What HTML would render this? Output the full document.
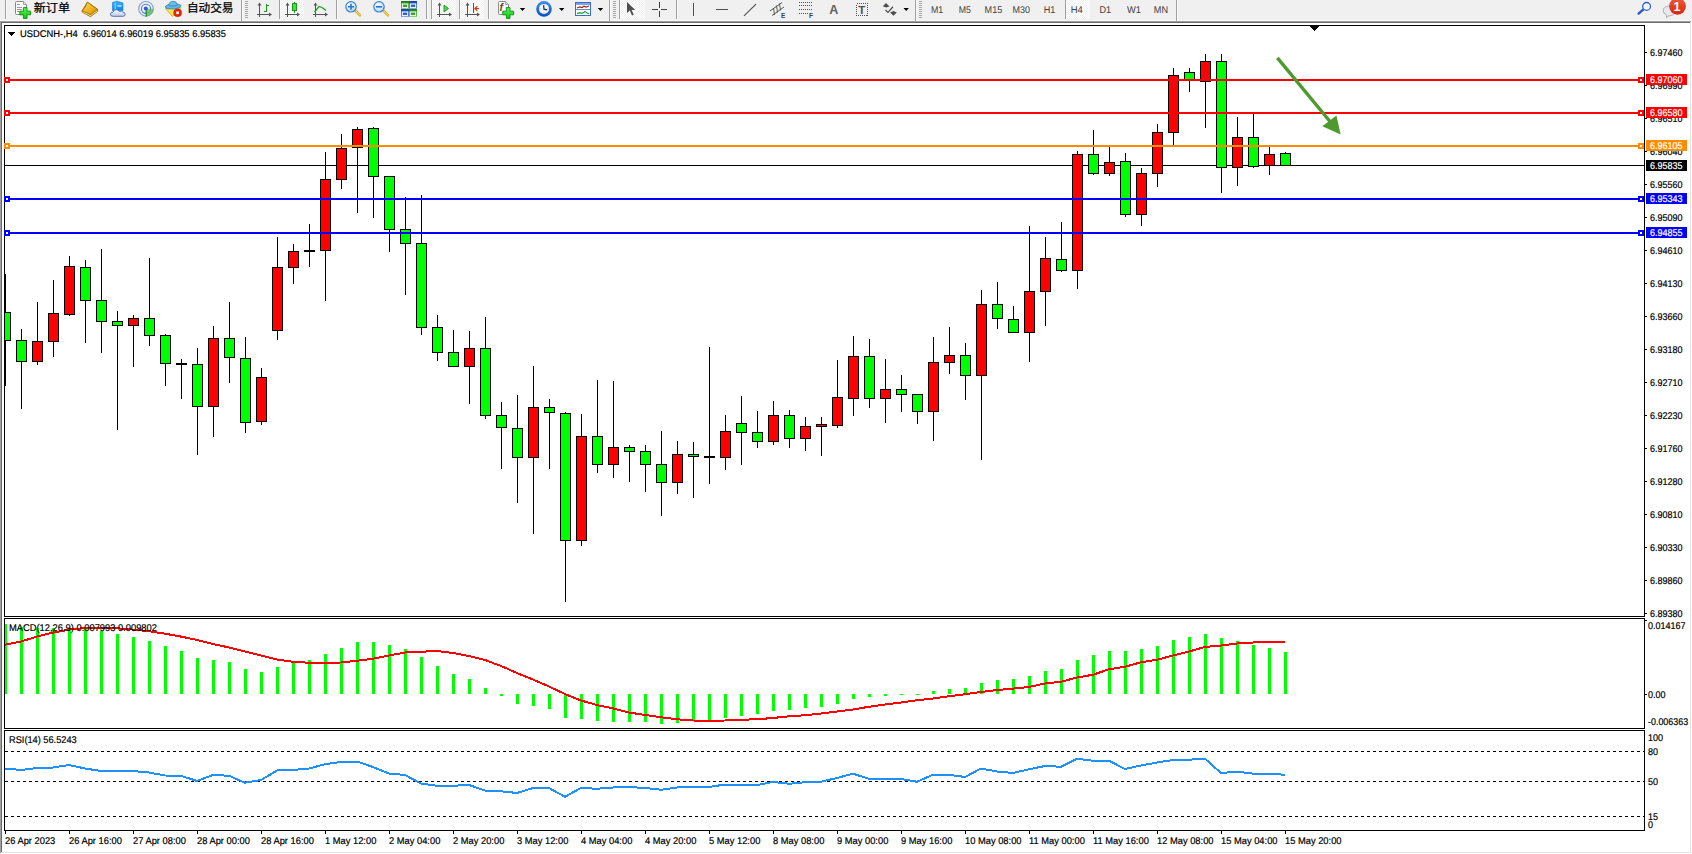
<!DOCTYPE html>
<html lang="zh"><head><meta charset="utf-8"><title>USDCNH-,H4</title>
<style>html,body{margin:0;padding:0;background:#fff}body{width:1692px;height:854px;overflow:hidden;position:relative}svg{display:block;position:absolute;left:0;top:0}text{font-family:"Liberation Sans","Noto Sans CJK SC",sans-serif}</style>
</head><body>
<svg width="1692" height="854" viewBox="0 0 1692 854">
<rect width="1692" height="854" fill="#fff"/>
<g shape-rendering="crispEdges">
<rect x="0" y="0" width="1692" height="21" fill="#f0f0f0"/>
<rect x="0" y="20" width="1692" height="1" fill="#f7f7f7"/>
<rect x="0" y="21" width="1691" height="1" fill="#a0a0a0"/>
<rect x="0" y="21" width="1" height="832" fill="#a0a0a0"/>
<rect x="1" y="22" width="1689" height="1" fill="#696969"/>
<rect x="1" y="22" width="1" height="830" fill="#696969"/>
<rect x="1690" y="22" width="1" height="831" fill="#e3e3e3"/>
<rect x="1" y="852" width="1690" height="1" fill="#e3e3e3"/>
<rect x="4" y="25" width="1641" height="1" fill="#000"/>
<rect x="4" y="25" width="1" height="592" fill="#000"/>
<rect x="1644" y="25" width="1" height="592" fill="#000"/>
<rect x="4" y="616" width="1641" height="1" fill="#000"/>
<rect x="4" y="618" width="1641" height="1" fill="#000"/>
<rect x="4" y="618" width="1" height="111" fill="#000"/>
<rect x="1644" y="618" width="1" height="111" fill="#000"/>
<rect x="4" y="728" width="1641" height="1" fill="#000"/>
<rect x="4" y="730" width="1641" height="1" fill="#000"/>
<rect x="4" y="730" width="1" height="101" fill="#000"/>
<rect x="1644" y="730" width="1" height="101" fill="#000"/>
<rect x="4" y="830" width="1641" height="1" fill="#000"/>
</g>
<svg x="5" y="26" width="1639" height="590" viewBox="5 26 1639 590" overflow="hidden">
<g shape-rendering="crispEdges">
<rect x="5" y="165" width="1639" height="1" fill="#000"/>
<rect x="5" y="274" width="1" height="112" fill="#000"/>
<rect x="0" y="312" width="11" height="29" fill="#000"/>
<rect x="1" y="313" width="9" height="27" fill="#00ff00"/>
<rect x="21" y="329" width="1" height="80" fill="#000"/>
<rect x="16" y="340" width="11" height="22" fill="#000"/>
<rect x="17" y="341" width="9" height="20" fill="#00ff00"/>
<rect x="37" y="302" width="1" height="63" fill="#000"/>
<rect x="32" y="341" width="11" height="21" fill="#000"/>
<rect x="33" y="342" width="9" height="19" fill="#ff0000"/>
<rect x="53" y="280" width="1" height="77" fill="#000"/>
<rect x="48" y="313" width="11" height="29" fill="#000"/>
<rect x="49" y="314" width="9" height="27" fill="#ff0000"/>
<rect x="69" y="256" width="1" height="60" fill="#000"/>
<rect x="64" y="266" width="11" height="49" fill="#000"/>
<rect x="65" y="267" width="9" height="47" fill="#ff0000"/>
<rect x="85" y="260" width="1" height="83" fill="#000"/>
<rect x="80" y="267" width="11" height="34" fill="#000"/>
<rect x="81" y="268" width="9" height="32" fill="#00ff00"/>
<rect x="101" y="249" width="1" height="104" fill="#000"/>
<rect x="96" y="300" width="11" height="22" fill="#000"/>
<rect x="97" y="301" width="9" height="20" fill="#00ff00"/>
<rect x="117" y="311" width="1" height="119" fill="#000"/>
<rect x="112" y="321" width="11" height="5" fill="#000"/>
<rect x="113" y="322" width="9" height="3" fill="#00ff00"/>
<rect x="133" y="315" width="1" height="52" fill="#000"/>
<rect x="128" y="318" width="11" height="8" fill="#000"/>
<rect x="129" y="319" width="9" height="6" fill="#ff0000"/>
<rect x="149" y="258" width="1" height="88" fill="#000"/>
<rect x="144" y="318" width="11" height="18" fill="#000"/>
<rect x="145" y="319" width="9" height="16" fill="#00ff00"/>
<rect x="165" y="334" width="1" height="52" fill="#000"/>
<rect x="160" y="335" width="11" height="29" fill="#000"/>
<rect x="161" y="336" width="9" height="27" fill="#00ff00"/>
<rect x="181" y="359" width="1" height="40" fill="#000"/>
<rect x="176" y="363" width="11" height="2" fill="#000"/>
<rect x="197" y="348" width="1" height="107" fill="#000"/>
<rect x="192" y="364" width="11" height="43" fill="#000"/>
<rect x="193" y="365" width="9" height="41" fill="#00ff00"/>
<rect x="213" y="326" width="1" height="111" fill="#000"/>
<rect x="208" y="338" width="11" height="69" fill="#000"/>
<rect x="209" y="339" width="9" height="67" fill="#ff0000"/>
<rect x="229" y="302" width="1" height="81" fill="#000"/>
<rect x="224" y="338" width="11" height="20" fill="#000"/>
<rect x="225" y="339" width="9" height="18" fill="#00ff00"/>
<rect x="245" y="337" width="1" height="96" fill="#000"/>
<rect x="240" y="358" width="11" height="65" fill="#000"/>
<rect x="241" y="359" width="9" height="63" fill="#00ff00"/>
<rect x="261" y="368" width="1" height="57" fill="#000"/>
<rect x="256" y="377" width="11" height="45" fill="#000"/>
<rect x="257" y="378" width="9" height="43" fill="#ff0000"/>
<rect x="277" y="237" width="1" height="103" fill="#000"/>
<rect x="272" y="267" width="11" height="64" fill="#000"/>
<rect x="273" y="268" width="9" height="62" fill="#ff0000"/>
<rect x="293" y="244" width="1" height="40" fill="#000"/>
<rect x="288" y="251" width="11" height="17" fill="#000"/>
<rect x="289" y="252" width="9" height="15" fill="#ff0000"/>
<rect x="309" y="224" width="1" height="43" fill="#000"/>
<rect x="304" y="250" width="11" height="2" fill="#000"/>
<rect x="325" y="152" width="1" height="149" fill="#000"/>
<rect x="320" y="179" width="11" height="72" fill="#000"/>
<rect x="321" y="180" width="9" height="70" fill="#ff0000"/>
<rect x="341" y="134" width="1" height="55" fill="#000"/>
<rect x="336" y="148" width="11" height="32" fill="#000"/>
<rect x="337" y="149" width="9" height="30" fill="#ff0000"/>
<rect x="357" y="127" width="1" height="86" fill="#000"/>
<rect x="352" y="129" width="11" height="19" fill="#000"/>
<rect x="353" y="130" width="9" height="17" fill="#ff0000"/>
<rect x="373" y="127" width="1" height="91" fill="#000"/>
<rect x="368" y="128" width="11" height="49" fill="#000"/>
<rect x="369" y="129" width="9" height="47" fill="#00ff00"/>
<rect x="389" y="176" width="1" height="76" fill="#000"/>
<rect x="384" y="176" width="11" height="54" fill="#000"/>
<rect x="385" y="177" width="9" height="52" fill="#00ff00"/>
<rect x="405" y="197" width="1" height="98" fill="#000"/>
<rect x="400" y="229" width="11" height="15" fill="#000"/>
<rect x="401" y="230" width="9" height="13" fill="#00ff00"/>
<rect x="421" y="195" width="1" height="140" fill="#000"/>
<rect x="416" y="243" width="11" height="85" fill="#000"/>
<rect x="417" y="244" width="9" height="83" fill="#00ff00"/>
<rect x="437" y="315" width="1" height="46" fill="#000"/>
<rect x="432" y="327" width="11" height="26" fill="#000"/>
<rect x="433" y="328" width="9" height="24" fill="#00ff00"/>
<rect x="453" y="330" width="1" height="37" fill="#000"/>
<rect x="448" y="352" width="11" height="15" fill="#000"/>
<rect x="449" y="353" width="9" height="13" fill="#00ff00"/>
<rect x="469" y="331" width="1" height="73" fill="#000"/>
<rect x="464" y="348" width="11" height="19" fill="#000"/>
<rect x="465" y="349" width="9" height="17" fill="#ff0000"/>
<rect x="485" y="317" width="1" height="102" fill="#000"/>
<rect x="480" y="348" width="11" height="68" fill="#000"/>
<rect x="481" y="349" width="9" height="66" fill="#00ff00"/>
<rect x="501" y="402" width="1" height="67" fill="#000"/>
<rect x="496" y="415" width="11" height="13" fill="#000"/>
<rect x="497" y="416" width="9" height="11" fill="#00ff00"/>
<rect x="517" y="395" width="1" height="108" fill="#000"/>
<rect x="512" y="428" width="11" height="30" fill="#000"/>
<rect x="513" y="429" width="9" height="28" fill="#00ff00"/>
<rect x="533" y="366" width="1" height="168" fill="#000"/>
<rect x="528" y="407" width="11" height="51" fill="#000"/>
<rect x="529" y="408" width="9" height="49" fill="#ff0000"/>
<rect x="549" y="399" width="1" height="70" fill="#000"/>
<rect x="544" y="407" width="11" height="6" fill="#000"/>
<rect x="545" y="408" width="9" height="4" fill="#00ff00"/>
<rect x="565" y="412" width="1" height="190" fill="#000"/>
<rect x="560" y="413" width="11" height="128" fill="#000"/>
<rect x="561" y="414" width="9" height="126" fill="#00ff00"/>
<rect x="581" y="414" width="1" height="132" fill="#000"/>
<rect x="576" y="436" width="11" height="105" fill="#000"/>
<rect x="577" y="437" width="9" height="103" fill="#ff0000"/>
<rect x="597" y="380" width="1" height="93" fill="#000"/>
<rect x="592" y="436" width="11" height="29" fill="#000"/>
<rect x="593" y="437" width="9" height="27" fill="#00ff00"/>
<rect x="613" y="381" width="1" height="97" fill="#000"/>
<rect x="608" y="447" width="11" height="18" fill="#000"/>
<rect x="609" y="448" width="9" height="16" fill="#ff0000"/>
<rect x="629" y="445" width="1" height="37" fill="#000"/>
<rect x="624" y="447" width="11" height="5" fill="#000"/>
<rect x="625" y="448" width="9" height="3" fill="#00ff00"/>
<rect x="645" y="445" width="1" height="47" fill="#000"/>
<rect x="640" y="451" width="11" height="14" fill="#000"/>
<rect x="641" y="452" width="9" height="12" fill="#00ff00"/>
<rect x="661" y="431" width="1" height="85" fill="#000"/>
<rect x="656" y="464" width="11" height="19" fill="#000"/>
<rect x="657" y="465" width="9" height="17" fill="#00ff00"/>
<rect x="677" y="441" width="1" height="53" fill="#000"/>
<rect x="672" y="454" width="11" height="29" fill="#000"/>
<rect x="673" y="455" width="9" height="27" fill="#ff0000"/>
<rect x="693" y="442" width="1" height="56" fill="#000"/>
<rect x="688" y="454" width="11" height="3" fill="#000"/>
<rect x="689" y="455" width="9" height="1" fill="#00ff00"/>
<rect x="709" y="347" width="1" height="137" fill="#000"/>
<rect x="704" y="456" width="11" height="2" fill="#000"/>
<rect x="725" y="415" width="1" height="55" fill="#000"/>
<rect x="720" y="431" width="11" height="27" fill="#000"/>
<rect x="721" y="432" width="9" height="25" fill="#ff0000"/>
<rect x="741" y="396" width="1" height="69" fill="#000"/>
<rect x="736" y="423" width="11" height="10" fill="#000"/>
<rect x="737" y="424" width="9" height="8" fill="#00ff00"/>
<rect x="757" y="411" width="1" height="37" fill="#000"/>
<rect x="752" y="432" width="11" height="10" fill="#000"/>
<rect x="753" y="433" width="9" height="8" fill="#00ff00"/>
<rect x="773" y="401" width="1" height="44" fill="#000"/>
<rect x="768" y="415" width="11" height="27" fill="#000"/>
<rect x="769" y="416" width="9" height="25" fill="#ff0000"/>
<rect x="789" y="410" width="1" height="38" fill="#000"/>
<rect x="784" y="415" width="11" height="24" fill="#000"/>
<rect x="785" y="416" width="9" height="22" fill="#00ff00"/>
<rect x="805" y="417" width="1" height="34" fill="#000"/>
<rect x="800" y="426" width="11" height="13" fill="#000"/>
<rect x="801" y="427" width="9" height="11" fill="#ff0000"/>
<rect x="821" y="417" width="1" height="39" fill="#000"/>
<rect x="816" y="424" width="11" height="3" fill="#000"/>
<rect x="817" y="425" width="9" height="1" fill="#ff0000"/>
<rect x="837" y="360" width="1" height="68" fill="#000"/>
<rect x="832" y="397" width="11" height="29" fill="#000"/>
<rect x="833" y="398" width="9" height="27" fill="#ff0000"/>
<rect x="853" y="336" width="1" height="80" fill="#000"/>
<rect x="848" y="356" width="11" height="43" fill="#000"/>
<rect x="849" y="357" width="9" height="41" fill="#ff0000"/>
<rect x="869" y="339" width="1" height="69" fill="#000"/>
<rect x="864" y="356" width="11" height="43" fill="#000"/>
<rect x="865" y="357" width="9" height="41" fill="#00ff00"/>
<rect x="885" y="359" width="1" height="64" fill="#000"/>
<rect x="880" y="389" width="11" height="10" fill="#000"/>
<rect x="881" y="390" width="9" height="8" fill="#ff0000"/>
<rect x="901" y="375" width="1" height="37" fill="#000"/>
<rect x="896" y="389" width="11" height="6" fill="#000"/>
<rect x="897" y="390" width="9" height="4" fill="#00ff00"/>
<rect x="917" y="394" width="1" height="30" fill="#000"/>
<rect x="912" y="394" width="11" height="18" fill="#000"/>
<rect x="913" y="395" width="9" height="16" fill="#00ff00"/>
<rect x="933" y="337" width="1" height="104" fill="#000"/>
<rect x="928" y="362" width="11" height="50" fill="#000"/>
<rect x="929" y="363" width="9" height="48" fill="#ff0000"/>
<rect x="949" y="327" width="1" height="47" fill="#000"/>
<rect x="944" y="355" width="11" height="8" fill="#000"/>
<rect x="945" y="356" width="9" height="6" fill="#ff0000"/>
<rect x="965" y="343" width="1" height="57" fill="#000"/>
<rect x="960" y="355" width="11" height="21" fill="#000"/>
<rect x="961" y="356" width="9" height="19" fill="#00ff00"/>
<rect x="981" y="290" width="1" height="170" fill="#000"/>
<rect x="976" y="304" width="11" height="72" fill="#000"/>
<rect x="977" y="305" width="9" height="70" fill="#ff0000"/>
<rect x="997" y="282" width="1" height="47" fill="#000"/>
<rect x="992" y="304" width="11" height="15" fill="#000"/>
<rect x="993" y="305" width="9" height="13" fill="#00ff00"/>
<rect x="1013" y="306" width="1" height="27" fill="#000"/>
<rect x="1008" y="319" width="11" height="14" fill="#000"/>
<rect x="1009" y="320" width="9" height="12" fill="#00ff00"/>
<rect x="1029" y="226" width="1" height="136" fill="#000"/>
<rect x="1024" y="291" width="11" height="42" fill="#000"/>
<rect x="1025" y="292" width="9" height="40" fill="#ff0000"/>
<rect x="1045" y="237" width="1" height="89" fill="#000"/>
<rect x="1040" y="258" width="11" height="34" fill="#000"/>
<rect x="1041" y="259" width="9" height="32" fill="#ff0000"/>
<rect x="1061" y="222" width="1" height="50" fill="#000"/>
<rect x="1056" y="259" width="11" height="12" fill="#000"/>
<rect x="1057" y="260" width="9" height="10" fill="#00ff00"/>
<rect x="1077" y="151" width="1" height="138" fill="#000"/>
<rect x="1072" y="154" width="11" height="117" fill="#000"/>
<rect x="1073" y="155" width="9" height="115" fill="#ff0000"/>
<rect x="1093" y="130" width="1" height="45" fill="#000"/>
<rect x="1088" y="154" width="11" height="20" fill="#000"/>
<rect x="1089" y="155" width="9" height="18" fill="#00ff00"/>
<rect x="1109" y="147" width="1" height="29" fill="#000"/>
<rect x="1104" y="162" width="11" height="12" fill="#000"/>
<rect x="1105" y="163" width="9" height="10" fill="#ff0000"/>
<rect x="1125" y="153" width="1" height="64" fill="#000"/>
<rect x="1120" y="161" width="11" height="54" fill="#000"/>
<rect x="1121" y="162" width="9" height="52" fill="#00ff00"/>
<rect x="1141" y="168" width="1" height="58" fill="#000"/>
<rect x="1136" y="173" width="11" height="42" fill="#000"/>
<rect x="1137" y="174" width="9" height="40" fill="#ff0000"/>
<rect x="1157" y="124" width="1" height="63" fill="#000"/>
<rect x="1152" y="132" width="11" height="42" fill="#000"/>
<rect x="1153" y="133" width="9" height="40" fill="#ff0000"/>
<rect x="1173" y="68" width="1" height="77" fill="#000"/>
<rect x="1168" y="75" width="11" height="58" fill="#000"/>
<rect x="1169" y="76" width="9" height="56" fill="#ff0000"/>
<rect x="1189" y="68" width="1" height="24" fill="#000"/>
<rect x="1184" y="72" width="11" height="8" fill="#000"/>
<rect x="1185" y="73" width="9" height="6" fill="#00ff00"/>
<rect x="1205" y="54" width="1" height="74" fill="#000"/>
<rect x="1200" y="61" width="11" height="21" fill="#000"/>
<rect x="1201" y="62" width="9" height="19" fill="#ff0000"/>
<rect x="1221" y="54" width="1" height="139" fill="#000"/>
<rect x="1216" y="61" width="11" height="107" fill="#000"/>
<rect x="1217" y="62" width="9" height="105" fill="#00ff00"/>
<rect x="1237" y="117" width="1" height="69" fill="#000"/>
<rect x="1232" y="137" width="11" height="31" fill="#000"/>
<rect x="1233" y="138" width="9" height="29" fill="#ff0000"/>
<rect x="1253" y="114" width="1" height="54" fill="#000"/>
<rect x="1248" y="137" width="11" height="30" fill="#000"/>
<rect x="1249" y="138" width="9" height="28" fill="#00ff00"/>
<rect x="1269" y="147" width="1" height="28" fill="#000"/>
<rect x="1264" y="154" width="11" height="12" fill="#000"/>
<rect x="1265" y="155" width="9" height="10" fill="#ff0000"/>
<rect x="1285" y="152" width="1" height="14" fill="#000"/>
<rect x="1280" y="153" width="11" height="13" fill="#000"/>
<rect x="1281" y="154" width="9" height="11" fill="#00ff00"/>
<rect x="5" y="79" width="1639" height="2" fill="#ff0000"/>
<rect x="5" y="112" width="1639" height="2" fill="#ff0000"/>
<rect x="5" y="145" width="1639" height="2" fill="#ff8c00"/>
<rect x="5" y="198" width="1639" height="2" fill="#0000ff"/>
<rect x="5" y="232" width="1639" height="2" fill="#0000ff"/>
</g>
<g shape-rendering="crispEdges" fill="#000"><rect x="1310" y="26" width="9" height="1"/><rect x="1311" y="27" width="7" height="1"/><rect x="1312" y="28" width="5" height="1"/><rect x="1313" y="29" width="3" height="1"/><rect x="1314" y="30" width="1" height="1"/></g>
<line x1="1277.4" y1="57.8" x2="1330" y2="121.5" stroke="#4e9a2f" stroke-width="3.4"/>
<path d="M1340.7 134.4 L1322.3 126.3 L1336.4 115.6 Z" fill="#4e9a2f"/>
</svg>
<g shape-rendering="crispEdges">
<rect x="4" y="77" width="6" height="6" fill="#ff0000"/>
<rect x="6" y="79" width="2" height="2" fill="#fff"/>
<rect x="1638" y="77" width="6" height="6" fill="#ff0000"/>
<rect x="1640" y="79" width="2" height="2" fill="#fff"/>
<rect x="4" y="110" width="6" height="6" fill="#ff0000"/>
<rect x="6" y="112" width="2" height="2" fill="#fff"/>
<rect x="1638" y="110" width="6" height="6" fill="#ff0000"/>
<rect x="1640" y="112" width="2" height="2" fill="#fff"/>
<rect x="4" y="143" width="6" height="6" fill="#ff8c00"/>
<rect x="6" y="145" width="2" height="2" fill="#fff"/>
<rect x="1638" y="143" width="6" height="6" fill="#ff8c00"/>
<rect x="1640" y="145" width="2" height="2" fill="#fff"/>
<rect x="4" y="196" width="6" height="6" fill="#0000ff"/>
<rect x="6" y="198" width="2" height="2" fill="#fff"/>
<rect x="1638" y="196" width="6" height="6" fill="#0000ff"/>
<rect x="1640" y="198" width="2" height="2" fill="#fff"/>
<rect x="4" y="230" width="6" height="6" fill="#0000ff"/>
<rect x="6" y="232" width="2" height="2" fill="#fff"/>
<rect x="1638" y="230" width="6" height="6" fill="#0000ff"/>
<rect x="1640" y="232" width="2" height="2" fill="#fff"/>
</g>
<g shape-rendering="crispEdges" fill="#000"><rect x="8" y="32" width="7" height="1"/><rect x="9" y="33" width="5" height="1"/><rect x="10" y="34" width="3" height="1"/><rect x="11" y="35" width="1" height="1"/></g>
<text transform="translate(20,37) scale(0.9551,1)" font-size="9.8" fill="#000" stroke="#000" stroke-width="0.2" text-rendering="geometricPrecision" xml:space="preserve">USDCNH-,H4  6.96014 6.96019 6.95835 6.95835</text>
<g shape-rendering="crispEdges">
<rect x="1645" y="52" width="2" height="1" fill="#000"/>
<rect x="1645" y="85" width="2" height="1" fill="#000"/>
<rect x="1645" y="118" width="2" height="1" fill="#000"/>
<rect x="1645" y="151" width="2" height="1" fill="#000"/>
<rect x="1645" y="184" width="2" height="1" fill="#000"/>
<rect x="1645" y="217" width="2" height="1" fill="#000"/>
<rect x="1645" y="250" width="2" height="1" fill="#000"/>
<rect x="1645" y="283" width="2" height="1" fill="#000"/>
<rect x="1645" y="316" width="2" height="1" fill="#000"/>
<rect x="1645" y="349" width="2" height="1" fill="#000"/>
<rect x="1645" y="382" width="2" height="1" fill="#000"/>
<rect x="1645" y="415" width="2" height="1" fill="#000"/>
<rect x="1645" y="448" width="2" height="1" fill="#000"/>
<rect x="1645" y="481" width="2" height="1" fill="#000"/>
<rect x="1645" y="514" width="2" height="1" fill="#000"/>
<rect x="1645" y="547" width="2" height="1" fill="#000"/>
<rect x="1645" y="580" width="2" height="1" fill="#000"/>
<rect x="1645" y="613" width="2" height="1" fill="#000"/>
</g>
<text transform="translate(1650,56) scale(0.9184,1)" font-size="9.8" fill="#000" stroke="#000" stroke-width="0.2" text-rendering="geometricPrecision" xml:space="preserve">6.97460</text>
<text transform="translate(1650,89) scale(0.9184,1)" font-size="9.8" fill="#000" stroke="#000" stroke-width="0.2" text-rendering="geometricPrecision" xml:space="preserve">6.96990</text>
<text transform="translate(1650,122) scale(0.9184,1)" font-size="9.8" fill="#000" stroke="#000" stroke-width="0.2" text-rendering="geometricPrecision" xml:space="preserve">6.96510</text>
<text transform="translate(1650,155) scale(0.9184,1)" font-size="9.8" fill="#000" stroke="#000" stroke-width="0.2" text-rendering="geometricPrecision" xml:space="preserve">6.96040</text>
<text transform="translate(1650,188) scale(0.9184,1)" font-size="9.8" fill="#000" stroke="#000" stroke-width="0.2" text-rendering="geometricPrecision" xml:space="preserve">6.95560</text>
<text transform="translate(1650,221) scale(0.9184,1)" font-size="9.8" fill="#000" stroke="#000" stroke-width="0.2" text-rendering="geometricPrecision" xml:space="preserve">6.95090</text>
<text transform="translate(1650,254) scale(0.9184,1)" font-size="9.8" fill="#000" stroke="#000" stroke-width="0.2" text-rendering="geometricPrecision" xml:space="preserve">6.94610</text>
<text transform="translate(1650,287) scale(0.9184,1)" font-size="9.8" fill="#000" stroke="#000" stroke-width="0.2" text-rendering="geometricPrecision" xml:space="preserve">6.94130</text>
<text transform="translate(1650,320) scale(0.9184,1)" font-size="9.8" fill="#000" stroke="#000" stroke-width="0.2" text-rendering="geometricPrecision" xml:space="preserve">6.93660</text>
<text transform="translate(1650,353) scale(0.9184,1)" font-size="9.8" fill="#000" stroke="#000" stroke-width="0.2" text-rendering="geometricPrecision" xml:space="preserve">6.93180</text>
<text transform="translate(1650,386) scale(0.9184,1)" font-size="9.8" fill="#000" stroke="#000" stroke-width="0.2" text-rendering="geometricPrecision" xml:space="preserve">6.92710</text>
<text transform="translate(1650,419) scale(0.9184,1)" font-size="9.8" fill="#000" stroke="#000" stroke-width="0.2" text-rendering="geometricPrecision" xml:space="preserve">6.92230</text>
<text transform="translate(1650,452) scale(0.9184,1)" font-size="9.8" fill="#000" stroke="#000" stroke-width="0.2" text-rendering="geometricPrecision" xml:space="preserve">6.91760</text>
<text transform="translate(1650,485) scale(0.9184,1)" font-size="9.8" fill="#000" stroke="#000" stroke-width="0.2" text-rendering="geometricPrecision" xml:space="preserve">6.91280</text>
<text transform="translate(1650,518) scale(0.9184,1)" font-size="9.8" fill="#000" stroke="#000" stroke-width="0.2" text-rendering="geometricPrecision" xml:space="preserve">6.90810</text>
<text transform="translate(1650,551) scale(0.9184,1)" font-size="9.8" fill="#000" stroke="#000" stroke-width="0.2" text-rendering="geometricPrecision" xml:space="preserve">6.90330</text>
<text transform="translate(1650,584) scale(0.9184,1)" font-size="9.8" fill="#000" stroke="#000" stroke-width="0.2" text-rendering="geometricPrecision" xml:space="preserve">6.89860</text>
<text transform="translate(1650,617) scale(0.9184,1)" font-size="9.8" fill="#000" stroke="#000" stroke-width="0.2" text-rendering="geometricPrecision" xml:space="preserve">6.89380</text>
<rect x="1646" y="74" width="41" height="11" fill="#ff0000" shape-rendering="crispEdges"/>
<text transform="translate(1650,83) scale(0.9184,1)" font-size="9.8" fill="#fff" stroke="#fff" stroke-width="0.2" text-rendering="geometricPrecision" xml:space="preserve">6.97060</text>
<rect x="1646" y="107" width="41" height="11" fill="#ff0000" shape-rendering="crispEdges"/>
<text transform="translate(1650,116) scale(0.9184,1)" font-size="9.8" fill="#fff" stroke="#fff" stroke-width="0.2" text-rendering="geometricPrecision" xml:space="preserve">6.96580</text>
<rect x="1646" y="140" width="41" height="11" fill="#ff8c00" shape-rendering="crispEdges"/>
<text transform="translate(1650,149) scale(0.9184,1)" font-size="9.8" fill="#fff" stroke="#fff" stroke-width="0.2" text-rendering="geometricPrecision" xml:space="preserve">6.96105</text>
<rect x="1646" y="193" width="41" height="11" fill="#0000ff" shape-rendering="crispEdges"/>
<text transform="translate(1650,202) scale(0.9184,1)" font-size="9.8" fill="#fff" stroke="#fff" stroke-width="0.2" text-rendering="geometricPrecision" xml:space="preserve">6.95343</text>
<rect x="1646" y="227" width="41" height="11" fill="#0000ff" shape-rendering="crispEdges"/>
<text transform="translate(1650,236) scale(0.9184,1)" font-size="9.8" fill="#fff" stroke="#fff" stroke-width="0.2" text-rendering="geometricPrecision" xml:space="preserve">6.94855</text>
<rect x="1646" y="160" width="41" height="11" fill="#000000" shape-rendering="crispEdges"/>
<text transform="translate(1650,169) scale(0.9184,1)" font-size="9.8" fill="#fff" stroke="#fff" stroke-width="0.2" text-rendering="geometricPrecision" xml:space="preserve">6.95835</text>
<svg x="5" y="619" width="1639" height="109" viewBox="5 619 1639 109" overflow="hidden">
<g shape-rendering="crispEdges" fill="#00ff00">
<rect x="4" y="624" width="3" height="70"/>
<rect x="20" y="627" width="3" height="67"/>
<rect x="36" y="628" width="3" height="66"/>
<rect x="52" y="628" width="3" height="66"/>
<rect x="68" y="628" width="3" height="66"/>
<rect x="84" y="628" width="3" height="66"/>
<rect x="100" y="631" width="3" height="63"/>
<rect x="116" y="634" width="3" height="60"/>
<rect x="132" y="637" width="3" height="57"/>
<rect x="148" y="641" width="3" height="53"/>
<rect x="164" y="646" width="3" height="48"/>
<rect x="180" y="651" width="3" height="43"/>
<rect x="196" y="658" width="3" height="36"/>
<rect x="212" y="660" width="3" height="34"/>
<rect x="228" y="662" width="3" height="32"/>
<rect x="244" y="669" width="3" height="25"/>
<rect x="260" y="672" width="3" height="22"/>
<rect x="276" y="667" width="3" height="27"/>
<rect x="292" y="663" width="3" height="31"/>
<rect x="308" y="660" width="3" height="34"/>
<rect x="324" y="654" width="3" height="40"/>
<rect x="340" y="648" width="3" height="46"/>
<rect x="356" y="642" width="3" height="52"/>
<rect x="372" y="642" width="3" height="52"/>
<rect x="388" y="645" width="3" height="49"/>
<rect x="404" y="649" width="3" height="45"/>
<rect x="420" y="657" width="3" height="37"/>
<rect x="436" y="666" width="3" height="28"/>
<rect x="452" y="674" width="3" height="20"/>
<rect x="468" y="679" width="3" height="15"/>
<rect x="484" y="688" width="3" height="6"/>
<rect x="500" y="694" width="3" height="2"/>
<rect x="516" y="694" width="3" height="10"/>
<rect x="532" y="694" width="3" height="12"/>
<rect x="548" y="694" width="3" height="15"/>
<rect x="564" y="694" width="3" height="24"/>
<rect x="580" y="694" width="3" height="25"/>
<rect x="596" y="694" width="3" height="27"/>
<rect x="612" y="694" width="3" height="28"/>
<rect x="628" y="694" width="3" height="28"/>
<rect x="644" y="694" width="3" height="28"/>
<rect x="660" y="694" width="3" height="30"/>
<rect x="676" y="694" width="3" height="29"/>
<rect x="692" y="694" width="3" height="27"/>
<rect x="708" y="694" width="3" height="26"/>
<rect x="724" y="694" width="3" height="24"/>
<rect x="740" y="694" width="3" height="22"/>
<rect x="756" y="694" width="3" height="20"/>
<rect x="772" y="694" width="3" height="17"/>
<rect x="788" y="694" width="3" height="16"/>
<rect x="804" y="694" width="3" height="14"/>
<rect x="820" y="694" width="3" height="13"/>
<rect x="836" y="694" width="3" height="10"/>
<rect x="852" y="694" width="3" height="5"/>
<rect x="868" y="694" width="3" height="3"/>
<rect x="884" y="694" width="3" height="2"/>
<rect x="900" y="694" width="3" height="1"/>
<rect x="916" y="694" width="3" height="1"/>
<rect x="932" y="691" width="3" height="3"/>
<rect x="948" y="689" width="3" height="5"/>
<rect x="964" y="688" width="3" height="6"/>
<rect x="980" y="683" width="3" height="11"/>
<rect x="996" y="680" width="3" height="14"/>
<rect x="1012" y="679" width="3" height="15"/>
<rect x="1028" y="676" width="3" height="18"/>
<rect x="1044" y="671" width="3" height="23"/>
<rect x="1060" y="669" width="3" height="25"/>
<rect x="1076" y="660" width="3" height="34"/>
<rect x="1092" y="655" width="3" height="39"/>
<rect x="1108" y="651" width="3" height="43"/>
<rect x="1124" y="651" width="3" height="43"/>
<rect x="1140" y="649" width="3" height="45"/>
<rect x="1156" y="646" width="3" height="48"/>
<rect x="1172" y="640" width="3" height="54"/>
<rect x="1188" y="637" width="3" height="57"/>
<rect x="1204" y="634" width="3" height="60"/>
<rect x="1220" y="638" width="3" height="56"/>
<rect x="1236" y="641" width="3" height="53"/>
<rect x="1252" y="645" width="3" height="49"/>
<rect x="1268" y="648" width="3" height="46"/>
<rect x="1284" y="652" width="3" height="42"/>
</g>
<polyline points="5,644.80 21,641.50 37,636.60 53,632.60 69,629.60 85,628.00 101,627.70 117,628.20 133,629.60 149,631.20 165,633.70 181,636.60 197,639.90 213,644.00 229,647.50 245,651.50 261,655.50 277,659.50 293,661.75 309,662.75 325,662.75 341,662.50 357,660.75 373,658.75 389,655.50 405,652.50 421,651.75 437,651.00 453,653.00 469,656.00 485,660.00 501,666.00 517,673.00 533,679.50 549,686.50 565,694.00 581,700.50 597,705.00 613,708.40 629,712.50 645,715.00 661,717.25 677,719.25 693,720.50 709,720.75 725,720.50 741,719.75 757,719.25 773,718.00 789,716.25 805,715.25 821,713.50 837,711.50 853,709.50 869,706.75 885,704.50 901,702.50 917,700.25 933,698.50 949,696.25 965,694.25 981,692.00 997,690.00 1013,688.60 1029,687.00 1045,683.50 1061,681.75 1077,677.50 1093,674.75 1109,669.25 1125,666.75 1141,662.25 1157,659.75 1173,655.50 1189,651.50 1205,647.00 1221,645.50 1237,643.50 1253,642.50 1269,641.75 1285,641.75" fill="none" stroke="#ff0000" stroke-width="2" stroke-linejoin="round" shape-rendering="crispEdges"/>
</svg>
<text transform="translate(9,631) scale(0.9531,1)" font-size="9.8" fill="#000" stroke="#000" stroke-width="0.2" text-rendering="geometricPrecision" xml:space="preserve">MACD(12,26,9) 0.007993 0.009802</text>
<text transform="translate(1648,629) scale(0.9184,1)" font-size="9.8" fill="#000" stroke="#000" stroke-width="0.2" text-rendering="geometricPrecision" xml:space="preserve">0.014167</text>
<text transform="translate(1648,698) scale(0.9184,1)" font-size="9.8" fill="#000" stroke="#000" stroke-width="0.2" text-rendering="geometricPrecision" xml:space="preserve">0.00</text>
<text transform="translate(1648,725) scale(0.9082,1)" font-size="9.8" fill="#000" stroke="#000" stroke-width="0.2" text-rendering="geometricPrecision" xml:space="preserve">-0.006363</text>
<rect x="1645" y="694" width="2" height="1" fill="#000" shape-rendering="crispEdges"/>
<rect x="1645" y="620" width="2" height="1" fill="#000" shape-rendering="crispEdges"/>
<svg x="5" y="731" width="1639" height="99" viewBox="5 731 1639 99" overflow="hidden">
<line x1="5" y1="751.5" x2="1644" y2="751.5" stroke="#000" stroke-width="1" stroke-dasharray="3 3" shape-rendering="crispEdges"/>
<line x1="5" y1="781.5" x2="1644" y2="781.5" stroke="#000" stroke-width="1" stroke-dasharray="3 3" shape-rendering="crispEdges"/>
<line x1="5" y1="816.5" x2="1644" y2="816.5" stroke="#000" stroke-width="1" stroke-dasharray="3 3" shape-rendering="crispEdges"/>
<polyline points="5,768.50 21,770.00 37,768.00 53,767.50 69,765.00 85,768.50 101,771.00 117,771.00 133,771.00 149,772.50 165,775.50 181,775.75 197,781.00 213,775.00 229,775.75 245,782.75 261,780.00 277,770.50 293,770.00 309,768.50 325,764.25 341,762.00 357,761.50 373,767.00 389,773.50 405,775.00 421,783.50 437,785.75 453,785.75 469,785.00 485,790.50 501,791.25 517,793.00 533,788.00 549,788.00 565,796.75 581,788.00 597,788.75 613,787.50 629,787.00 645,788.00 661,789.75 677,787.50 693,787.25 709,787.00 725,784.50 741,784.50 757,785.00 773,782.00 789,783.75 805,782.25 821,781.75 837,778.00 853,773.75 869,778.75 885,779.00 901,779.00 917,781.75 933,774.75 949,774.75 965,777.00 981,768.50 997,771.50 1013,773.00 1029,769.25 1045,766.00 1061,766.75 1077,758.75 1093,760.75 1109,760.75 1125,769.00 1141,765.50 1157,762.50 1173,760.00 1189,759.75 1205,758.60 1221,773.00 1237,771.60 1253,773.60 1269,773.60 1285,774.80" fill="none" stroke="#1e90ff" stroke-width="2" stroke-linejoin="round" shape-rendering="crispEdges"/>
</svg>
<text transform="translate(9,743) scale(0.9418,1)" font-size="9.8" fill="#000" stroke="#000" stroke-width="0.2" text-rendering="geometricPrecision" xml:space="preserve">RSI(14) 56.5243</text>
<text transform="translate(1648,741) scale(0.9184,1)" font-size="9.8" fill="#000" stroke="#000" stroke-width="0.2" text-rendering="geometricPrecision" xml:space="preserve">100</text>
<text transform="translate(1648,755) scale(0.9184,1)" font-size="9.8" fill="#000" stroke="#000" stroke-width="0.2" text-rendering="geometricPrecision" xml:space="preserve">80</text>
<text transform="translate(1648,785) scale(0.9184,1)" font-size="9.8" fill="#000" stroke="#000" stroke-width="0.2" text-rendering="geometricPrecision" xml:space="preserve">50</text>
<text transform="translate(1648,820) scale(0.9184,1)" font-size="9.8" fill="#000" stroke="#000" stroke-width="0.2" text-rendering="geometricPrecision" xml:space="preserve">15</text>
<text transform="translate(1648,828) scale(0.9184,1)" font-size="9.8" fill="#000" stroke="#000" stroke-width="0.2" text-rendering="geometricPrecision" xml:space="preserve">0</text>
<g shape-rendering="crispEdges">
<rect x="5" y="831" width="1" height="3" fill="#000"/>
<rect x="69" y="831" width="1" height="3" fill="#000"/>
<rect x="133" y="831" width="1" height="3" fill="#000"/>
<rect x="197" y="831" width="1" height="3" fill="#000"/>
<rect x="261" y="831" width="1" height="3" fill="#000"/>
<rect x="325" y="831" width="1" height="3" fill="#000"/>
<rect x="389" y="831" width="1" height="3" fill="#000"/>
<rect x="453" y="831" width="1" height="3" fill="#000"/>
<rect x="517" y="831" width="1" height="3" fill="#000"/>
<rect x="581" y="831" width="1" height="3" fill="#000"/>
<rect x="645" y="831" width="1" height="3" fill="#000"/>
<rect x="709" y="831" width="1" height="3" fill="#000"/>
<rect x="773" y="831" width="1" height="3" fill="#000"/>
<rect x="837" y="831" width="1" height="3" fill="#000"/>
<rect x="901" y="831" width="1" height="3" fill="#000"/>
<rect x="965" y="831" width="1" height="3" fill="#000"/>
<rect x="1029" y="831" width="1" height="3" fill="#000"/>
<rect x="1093" y="831" width="1" height="3" fill="#000"/>
<rect x="1157" y="831" width="1" height="3" fill="#000"/>
<rect x="1221" y="831" width="1" height="3" fill="#000"/>
<rect x="1285" y="831" width="1" height="3" fill="#000"/>
</g>
<text transform="translate(5,844) scale(0.9520,1)" font-size="9.8" fill="#000" stroke="#000" stroke-width="0.2" text-rendering="geometricPrecision" xml:space="preserve">26 Apr 2023</text>
<text transform="translate(69,844) scale(0.9520,1)" font-size="9.8" fill="#000" stroke="#000" stroke-width="0.2" text-rendering="geometricPrecision" xml:space="preserve">26 Apr 16:00</text>
<text transform="translate(133,844) scale(0.9520,1)" font-size="9.8" fill="#000" stroke="#000" stroke-width="0.2" text-rendering="geometricPrecision" xml:space="preserve">27 Apr 08:00</text>
<text transform="translate(197,844) scale(0.9520,1)" font-size="9.8" fill="#000" stroke="#000" stroke-width="0.2" text-rendering="geometricPrecision" xml:space="preserve">28 Apr 00:00</text>
<text transform="translate(261,844) scale(0.9520,1)" font-size="9.8" fill="#000" stroke="#000" stroke-width="0.2" text-rendering="geometricPrecision" xml:space="preserve">28 Apr 16:00</text>
<text transform="translate(325,844) scale(0.9520,1)" font-size="9.8" fill="#000" stroke="#000" stroke-width="0.2" text-rendering="geometricPrecision" xml:space="preserve">1 May 12:00</text>
<text transform="translate(389,844) scale(0.9520,1)" font-size="9.8" fill="#000" stroke="#000" stroke-width="0.2" text-rendering="geometricPrecision" xml:space="preserve">2 May 04:00</text>
<text transform="translate(453,844) scale(0.9520,1)" font-size="9.8" fill="#000" stroke="#000" stroke-width="0.2" text-rendering="geometricPrecision" xml:space="preserve">2 May 20:00</text>
<text transform="translate(517,844) scale(0.9520,1)" font-size="9.8" fill="#000" stroke="#000" stroke-width="0.2" text-rendering="geometricPrecision" xml:space="preserve">3 May 12:00</text>
<text transform="translate(581,844) scale(0.9520,1)" font-size="9.8" fill="#000" stroke="#000" stroke-width="0.2" text-rendering="geometricPrecision" xml:space="preserve">4 May 04:00</text>
<text transform="translate(645,844) scale(0.9520,1)" font-size="9.8" fill="#000" stroke="#000" stroke-width="0.2" text-rendering="geometricPrecision" xml:space="preserve">4 May 20:00</text>
<text transform="translate(709,844) scale(0.9520,1)" font-size="9.8" fill="#000" stroke="#000" stroke-width="0.2" text-rendering="geometricPrecision" xml:space="preserve">5 May 12:00</text>
<text transform="translate(773,844) scale(0.9520,1)" font-size="9.8" fill="#000" stroke="#000" stroke-width="0.2" text-rendering="geometricPrecision" xml:space="preserve">8 May 08:00</text>
<text transform="translate(837,844) scale(0.9520,1)" font-size="9.8" fill="#000" stroke="#000" stroke-width="0.2" text-rendering="geometricPrecision" xml:space="preserve">9 May 00:00</text>
<text transform="translate(901,844) scale(0.9520,1)" font-size="9.8" fill="#000" stroke="#000" stroke-width="0.2" text-rendering="geometricPrecision" xml:space="preserve">9 May 16:00</text>
<text transform="translate(965,844) scale(0.9520,1)" font-size="9.8" fill="#000" stroke="#000" stroke-width="0.2" text-rendering="geometricPrecision" xml:space="preserve">10 May 08:00</text>
<text transform="translate(1029,844) scale(0.9520,1)" font-size="9.8" fill="#000" stroke="#000" stroke-width="0.2" text-rendering="geometricPrecision" xml:space="preserve">11 May 00:00</text>
<text transform="translate(1093,844) scale(0.9520,1)" font-size="9.8" fill="#000" stroke="#000" stroke-width="0.2" text-rendering="geometricPrecision" xml:space="preserve">11 May 16:00</text>
<text transform="translate(1157,844) scale(0.9520,1)" font-size="9.8" fill="#000" stroke="#000" stroke-width="0.2" text-rendering="geometricPrecision" xml:space="preserve">12 May 08:00</text>
<text transform="translate(1221,844) scale(0.9520,1)" font-size="9.8" fill="#000" stroke="#000" stroke-width="0.2" text-rendering="geometricPrecision" xml:space="preserve">15 May 04:00</text>
<text transform="translate(1285,844) scale(0.9520,1)" font-size="9.8" fill="#000" stroke="#000" stroke-width="0.2" text-rendering="geometricPrecision" xml:space="preserve">15 May 20:00</text>
<defs>
<linearGradient id="gGold" x1="0" y1="0" x2="1" y2="1"><stop offset="0" stop-color="#fbe06a"/><stop offset="0.5" stop-color="#f0b81c"/><stop offset="1" stop-color="#c98a12"/></linearGradient>
<linearGradient id="gPlus" x1="0" y1="0" x2="0" y2="1"><stop offset="0" stop-color="#58f858"/><stop offset="1" stop-color="#0cc60c"/></linearGradient>
<linearGradient id="gBadge" x1="0" y1="0" x2="0" y2="1"><stop offset="0" stop-color="#ea5a3e"/><stop offset="1" stop-color="#d8260c"/></linearGradient>
<linearGradient id="gBlue" x1="0" y1="0" x2="0" y2="1"><stop offset="0" stop-color="#38b4ff"/><stop offset="1" stop-color="#0a84ee"/></linearGradient>
<linearGradient id="gCloud" x1="0" y1="0" x2="0" y2="1"><stop offset="0" stop-color="#ffffff"/><stop offset="1" stop-color="#b9c9e6"/></linearGradient>
<radialGradient id="gLens" cx="0.4" cy="0.35" r="0.7"><stop offset="0" stop-color="#ffffff"/><stop offset="1" stop-color="#a8d8f4"/></radialGradient>
<linearGradient id="gClock" x1="0" y1="0" x2="0" y2="1"><stop offset="0" stop-color="#3f8ef0"/><stop offset="1" stop-color="#0b4fc0"/></linearGradient>
<pattern id="chk" width="2" height="2" patternUnits="userSpaceOnUse"><rect width="2" height="2" fill="#f0f0f0"/><rect width="1" height="1" fill="#fff"/><rect x="1" y="1" width="1" height="1" fill="#fff"/></pattern>
</defs>
<rect x="5" y="0" width="1" height="19" fill="#a0a0a0" shape-rendering="crispEdges"/>
<rect x="6" y="0" width="1" height="19" fill="#fafafa" shape-rendering="crispEdges"/>
<path d="M15.5 2.5 q0 -1 1 -1 h7 l3 3 v9 q0 1 -1 1 h-9 q-1 0 -1 -1 z" fill="#fdfdfd" stroke="#8a8a8a" stroke-width="1"/>
<path d="M23.5 1.5 v3 h3" fill="#e8e8e8" stroke="#8a8a8a" stroke-width="0.8"/>
<g stroke="#9a9a9a" stroke-width="1" shape-rendering="crispEdges"><path d="M17 4.5h3M17 7.5h5M17 9.5h5M17 11.5h3"/></g>
<path d="M23.4 7.6 h3.6 v3.6 h3.6 v3.6 h-3.6 v3.6 h-3.6 v-3.6 h-3.6 v-3.6 h3.6 z" fill="url(#gPlus)" stroke="#0b8f0b" stroke-width="0.9"/>
<text x="33.8" y="11.7" font-size="11" fill="#000" stroke="#000" stroke-width="0.25" textLength="36.2" lengthAdjust="spacingAndGlyphs">新订单</text>
<path d="M87.4 2.2 L97.5 9.3 L97.6 11.4 L90.4 16.7 L82.1 12 L82.2 10.6 Z" fill="#d9a12a" stroke="#a86c08" stroke-width="0.9"/>
<path d="M83 11.6 L90.5 15.6 L97 10.8" fill="none" stroke="#f6ecc0" stroke-width="0.9"/>
<path d="M87.4 2.2 L97.5 9.3 L90.6 14.6 L82.2 10.6 Q85.8 7.4 87.4 2.2 Z" fill="url(#gGold)" stroke="#a86c08" stroke-width="0.9"/>
<path d="M112.5 2.5 L117 1.2 L123 3 V10.5 H112.5 Z" fill="url(#gBlue)" stroke="#0a78e0" stroke-width="0.6"/>
<path d="M115.2 3.2 V10" stroke="#bfe6ff" stroke-width="0.9"/>
<rect x="117.3" y="5.3" width="4.2" height="1.3" fill="#d8f0ff"/>
<path d="M113 16.3 q-2.8 0 -2.6 -2.2 q0.2 -2 2.6 -1.9 q0.6 -2.6 3.4 -2.5 q2.3 0.1 3 1.8 q2.3 -1.2 3.7 0.7 q2.1 0.1 2.1 2.1 q0 2 -2.3 2 z" fill="url(#gCloud)" stroke="#4c6aa8" stroke-width="0.9"/>
<g fill="none" stroke-width="1.1"><circle cx="146" cy="8.8" r="7.3" stroke="#7f9fe0"/><circle cx="146" cy="8.8" r="4.6" stroke="#4a74d8"/></g>
<path d="M146 8.8 L146.3 16.4 A7.6 7.6 0 0 0 153.6 8.8 Z" fill="#5cb85c" opacity="0.75"/>
<path d="M146 8.8 L146.4 16.6" stroke="#1fa01f" stroke-width="1.4"/>
<circle cx="145.8" cy="8.6" r="2" fill="#2a5cd0"/>
<path d="M165.6 8.6 L180.6 7.8 L172.4 16.4 Z" fill="#ffe34a" stroke="#c9a20a" stroke-width="0.8"/>
<ellipse cx="173.2" cy="6.4" rx="7.9" ry="2.5" fill="#62b6e6" stroke="#2f86b8" stroke-width="0.8" transform="rotate(-4 173.2 6.4)"/>
<path d="M168.8 5.6 q0.2 -4.2 4.2 -4.3 q4 -0.1 4.4 3.8 q-4.2 1.8 -8.6 0.5 z" fill="#6cbcea" stroke="#2f86b8" stroke-width="0.8"/>
<circle cx="177.6" cy="12.8" r="4" fill="#e42606" stroke="#c41c00" stroke-width="0.5"/>
<rect x="176.3" y="11.5" width="2.6" height="2.6" fill="#fff"/>
<text x="186.9" y="11.8" font-size="11" fill="#000" stroke="#000" stroke-width="0.25" textLength="46.6" lengthAdjust="spacingAndGlyphs">自动交易</text>
<rect x="241" y="0" width="1" height="21" fill="#a0a0a0" shape-rendering="crispEdges"/>
<rect x="242" y="0" width="1" height="21" fill="#fafafa" shape-rendering="crispEdges"/>
<g shape-rendering="crispEdges" fill="#a8a8a8">
<rect x="245" y="1" width="3" height="1"/>
<rect x="245" y="3" width="3" height="1"/>
<rect x="245" y="5" width="3" height="1"/>
<rect x="245" y="7" width="3" height="1"/>
<rect x="245" y="9" width="3" height="1"/>
<rect x="245" y="11" width="3" height="1"/>
<rect x="245" y="13" width="3" height="1"/>
<rect x="245" y="15" width="3" height="1"/>
<rect x="245" y="17" width="3" height="1"/>
</g>
<g stroke="#555" stroke-width="1" fill="none" shape-rendering="crispEdges"><path d="M259.5 4 V17"/><path d="M257 14.5 H271"/></g>
<path d="M259.5 2.5 l-2 3 h4 z M272 14.5 l-3 -2 v4 z" fill="#555"/>
<path d="M266.5 4 V12 M266.5 5.5 H269 M264 11.5 H266.5" stroke="#1d9a1d" stroke-width="1.3" fill="none" shape-rendering="crispEdges"/>
<rect x="279" y="0" width="1" height="19" fill="#a0a0a0" shape-rendering="crispEdges"/>
<rect x="280" y="0" width="1" height="19" fill="#fafafa" shape-rendering="crispEdges"/>
<rect x="281" y="0" width="23" height="19" fill="url(#chk)" shape-rendering="crispEdges"/>
<g stroke="#555" stroke-width="1" fill="none" shape-rendering="crispEdges"><path d="M287.5 4 V17"/><path d="M285 14.5 H299"/></g>
<path d="M287.5 2.5 l-2 3 h4 z M300 14.5 l-3 -2 v4 z" fill="#555"/>
<path d="M294.5 1.5 V13" stroke="#1d9a1d" stroke-width="1" shape-rendering="crispEdges"/>
<rect x="292.5" y="3.5" width="4" height="7" fill="#44e044" stroke="#1d9a1d" stroke-width="1" shape-rendering="crispEdges"/>
<g stroke="#555" stroke-width="1" fill="none" shape-rendering="crispEdges"><path d="M315.5 4 V17"/><path d="M313 14.5 H327"/></g>
<path d="M315.5 2.5 l-2 3 h4 z M328 14.5 l-3 -2 v4 z" fill="#555"/>
<path d="M314.5 12 L319 6.5 L322 7.5 L326 10.5" stroke="#1d9a1d" stroke-width="1.2" fill="none"/>
<rect x="336" y="0" width="1" height="19" fill="#a0a0a0" shape-rendering="crispEdges"/>
<rect x="337" y="0" width="1" height="19" fill="#fafafa" shape-rendering="crispEdges"/>
<path d="M354.5 9.5 L360 15.3" stroke="#d8b030" stroke-width="2.6" stroke-linecap="round"/>
<path d="M354.5 9.5 L360 15.3" stroke="#f0dc78" stroke-width="1" stroke-linecap="round"/>
<circle cx="351" cy="6.8" r="5.2" fill="url(#gLens)" stroke="#3b82d6" stroke-width="1.2"/>
<path d="M348 6.8 h6 M351 3.8 v6" stroke="#2f6fd0" stroke-width="1.6"/>
<path d="M382.5 9.5 L388 15.3" stroke="#d8b030" stroke-width="2.6" stroke-linecap="round"/>
<path d="M382.5 9.5 L388 15.3" stroke="#f0dc78" stroke-width="1" stroke-linecap="round"/>
<circle cx="379" cy="6.8" r="5.2" fill="url(#gLens)" stroke="#3b82d6" stroke-width="1.2"/>
<path d="M376 6.8 h6" stroke="#2f6fd0" stroke-width="1.6"/>
<rect x="401" y="1" width="8" height="7.6" fill="#3aa528"/>
<rect x="401" y="1" width="8" height="1.6" fill="#1f7f14"/>
<rect x="402.3" y="4" width="5.4" height="3.6" fill="none" stroke="#fff" stroke-width="1"/>
<rect x="409" y="1" width="8" height="7.6" fill="#2d63d8"/>
<rect x="409" y="1" width="8" height="1.6" fill="#1b3fa8"/>
<rect x="410.3" y="4" width="5.4" height="3.6" fill="none" stroke="#fff" stroke-width="1"/>
<rect x="401" y="9" width="8" height="7.6" fill="#2d63d8"/>
<rect x="401" y="9" width="8" height="1.6" fill="#1b3fa8"/>
<rect x="402.3" y="12" width="5.4" height="3.6" fill="none" stroke="#fff" stroke-width="1"/>
<rect x="409" y="9" width="8" height="7.6" fill="#3aa528"/>
<rect x="409" y="9" width="8" height="1.6" fill="#1f7f14"/>
<rect x="410.3" y="12" width="5.4" height="3.6" fill="none" stroke="#fff" stroke-width="1"/>
<rect x="426" y="0" width="1" height="19" fill="#a0a0a0" shape-rendering="crispEdges"/>
<rect x="427" y="0" width="1" height="19" fill="#fafafa" shape-rendering="crispEdges"/>
<rect x="431" y="0" width="1" height="19" fill="#a0a0a0" shape-rendering="crispEdges"/>
<rect x="432" y="0" width="1" height="19" fill="#fafafa" shape-rendering="crispEdges"/>
<rect x="433" y="0" width="23" height="19" fill="url(#chk)" shape-rendering="crispEdges"/>
<g stroke="#555" stroke-width="1" fill="none" shape-rendering="crispEdges"><path d="M439.5 4 V17"/><path d="M437 14.5 H451"/></g>
<path d="M439.5 2.5 l-2 3 h4 z M452 14.5 l-3 -2 v4 z" fill="#555"/>
<path d="M444 5 L448.5 8.5 L444 12 Z" fill="#45d845" stroke="#1d9a1d" stroke-width="0.9"/>
<rect x="459" y="0" width="1" height="19" fill="#a0a0a0" shape-rendering="crispEdges"/>
<rect x="460" y="0" width="1" height="19" fill="#fafafa" shape-rendering="crispEdges"/>
<rect x="461" y="0" width="23" height="19" fill="url(#chk)" shape-rendering="crispEdges"/>
<g stroke="#555" stroke-width="1" fill="none" shape-rendering="crispEdges"><path d="M467.5 4 V17"/><path d="M465 14.5 H479"/></g>
<path d="M467.5 2.5 l-2 3 h4 z M480 14.5 l-3 -2 v4 z" fill="#555"/>
<path d="M473.5 3 V13" stroke="#2060c0" stroke-width="1.2" shape-rendering="crispEdges"/>
<path d="M479 8.5 H475 M477.4 6.3 L474.8 8.5 L477.4 10.7" stroke="#d04010" stroke-width="1.2" fill="none"/>
<rect x="488" y="0" width="1" height="19" fill="#a0a0a0" shape-rendering="crispEdges"/>
<rect x="489" y="0" width="1" height="19" fill="#fafafa" shape-rendering="crispEdges"/>
<path d="M498.5 2.5 q0 -1 1 -1 h6 l3 3 v9 q0 1 -1 1 h-8 q-1 0 -1 -1 z" fill="#fdfdfd" stroke="#8a8a8a" stroke-width="1"/>
<path d="M505.5 1.5 v3 h3" fill="#e8e8e8" stroke="#8a8a8a" stroke-width="0.8"/>
<text x="499.6" y="10.6" font-size="10.5" font-style="italic" font-weight="bold" fill="#5a4a30" font-family="Liberation Serif,serif">f</text>
<path d="M506.4 7.6 h3.6 v3.6 h3.6 v3.6 h-3.6 v3.6 h-3.6 v-3.6 h-3.6 v-3.6 h3.6 z" fill="url(#gPlus)" stroke="#0b8f0b" stroke-width="0.9"/>
<path d="M519.8 8 h5.4 l-2.7 3 z" fill="#000"/>
<circle cx="544" cy="8.9" r="7.8" fill="url(#gClock)"/>
<circle cx="544" cy="8.9" r="5" fill="#f2f6fc"/>
<g stroke="#9aa8c0" stroke-width="0.8"><path d="M544 4.4 v1.2 M544 12.2 v1.2 M539.5 8.9 h1.2 M547.3 8.9 h1.2"/></g>
<path d="M543.6 5.2 L544 9.2 L547 9.8" stroke="#222" stroke-width="1.2" fill="none"/>
<path d="M559 8 h5.4 l-2.7 3 z" fill="#000"/>
<rect x="575.5" y="2.5" width="15" height="13" fill="#fff" stroke="#3a6cc8" stroke-width="1"/>
<rect x="576" y="3" width="14" height="2" fill="#7aa4e8"/>
<path d="M576 9.5 H590" stroke="#3a6cc8" stroke-width="0.8"/>
<path d="M577 8 L580 7 L582 7.6 L584 6.2 L586 7 L589 6" stroke="#b02010" stroke-width="1.2" fill="none"/>
<path d="M577 13.6 L580 12.6 L582 13.4 L585 11.4 L587 13 L589 13.6" stroke="#10a030" stroke-width="1.2" fill="none"/>
<path d="M597.8 8 h5.4 l-2.7 3 z" fill="#000"/>
<rect x="609" y="0" width="1" height="21" fill="#a0a0a0" shape-rendering="crispEdges"/>
<rect x="610" y="0" width="1" height="21" fill="#fafafa" shape-rendering="crispEdges"/>
<g shape-rendering="crispEdges" fill="#a8a8a8">
<rect x="613" y="1" width="3" height="1"/>
<rect x="613" y="3" width="3" height="1"/>
<rect x="613" y="5" width="3" height="1"/>
<rect x="613" y="7" width="3" height="1"/>
<rect x="613" y="9" width="3" height="1"/>
<rect x="613" y="11" width="3" height="1"/>
<rect x="613" y="13" width="3" height="1"/>
<rect x="613" y="15" width="3" height="1"/>
<rect x="613" y="17" width="3" height="1"/>
</g>
<rect x="619" y="0" width="1" height="19" fill="#a0a0a0" shape-rendering="crispEdges"/>
<rect x="620" y="0" width="1" height="19" fill="#fafafa" shape-rendering="crispEdges"/>
<rect x="621" y="0" width="24" height="19" fill="url(#chk)" shape-rendering="crispEdges"/>
<path d="M627 2 L627 13 L629.8 10.6 L632 15.6 L633.8 14.8 L631.6 10 L635.2 10 Z" fill="#505050"/>
<g stroke="#404040" stroke-width="1" shape-rendering="crispEdges"><path d="M659.5 2 V8 M659.5 11 V17 M652 9.5 H658 M661 9.5 H667"/></g>
<rect x="676" y="0" width="1" height="19" fill="#a0a0a0" shape-rendering="crispEdges"/>
<rect x="677" y="0" width="1" height="19" fill="#fafafa" shape-rendering="crispEdges"/>
<g stroke="#505050" stroke-width="1" shape-rendering="crispEdges"><path d="M693.5 3 V16 M716 9.5 H728"/></g>
<path d="M744 15.8 L756 4.2" stroke="#505050" stroke-width="1.1"/>
<g stroke="#505050" stroke-width="1"><path d="M770 11 L782 2.5 M772 15.5 L784 7"/><path d="M773.5 8 L774.5 15 M776.5 5.6 L777.5 12.6 M779.5 3.4 L780.5 10.4" stroke-width="0.9"/></g>
<text x="781" y="18" font-size="6.5" font-weight="bold" fill="#404040">E</text>
<g stroke="#505050" stroke-width="1" stroke-dasharray="1 1" shape-rendering="crispEdges"><path d="M799 2.5 H812 M799 5.5 H812 M799 9.5 H812 M799 13.5 H808"/></g>
<text x="809" y="18" font-size="6.5" font-weight="bold" fill="#404040">F</text>
<text x="829.3" y="14" font-size="12.5" font-weight="bold" fill="#606060">A</text>
<rect x="856.5" y="3.5" width="11" height="12" fill="none" stroke="#505050" stroke-width="1" stroke-dasharray="1 1" shape-rendering="crispEdges"/>
<text x="858.3" y="13.6" font-size="11.5" font-weight="bold" fill="#505050">T</text>
<path d="M886 3 L889.5 6.4 L886 7.6 L882.8 6.2 Z" fill="#505050"/>
<path d="M893.5 15.8 L890 12.4 L893.5 11 L896.8 12.4 Z" fill="#505050"/>
<path d="M885.5 10 L888 12.4 L893 6.8" stroke="#505050" stroke-width="1.3" fill="none"/>
<path d="M903.5 8 h5.4 l-2.7 3 z" fill="#000"/>
<rect x="915" y="0" width="1" height="21" fill="#a0a0a0" shape-rendering="crispEdges"/>
<rect x="916" y="0" width="1" height="21" fill="#fafafa" shape-rendering="crispEdges"/>
<g shape-rendering="crispEdges" fill="#a8a8a8">
<rect x="919" y="1" width="3" height="1"/>
<rect x="919" y="3" width="3" height="1"/>
<rect x="919" y="5" width="3" height="1"/>
<rect x="919" y="7" width="3" height="1"/>
<rect x="919" y="9" width="3" height="1"/>
<rect x="919" y="11" width="3" height="1"/>
<rect x="919" y="13" width="3" height="1"/>
<rect x="919" y="15" width="3" height="1"/>
<rect x="919" y="17" width="3" height="1"/>
</g>
<rect x="1066" y="0" width="24" height="19" fill="url(#chk)" shape-rendering="crispEdges"/>
<rect x="1065" y="0" width="1" height="19" fill="#a0a0a0" shape-rendering="crispEdges"/>
<rect x="1066" y="0" width="1" height="19" fill="#fafafa" shape-rendering="crispEdges"/>
<text x="930.9" y="13" font-size="9.8" fill="#404040" textLength="12.2" lengthAdjust="spacingAndGlyphs" text-rendering="geometricPrecision">M1</text>
<text x="958.8" y="13" font-size="9.8" fill="#404040" textLength="12.2" lengthAdjust="spacingAndGlyphs" text-rendering="geometricPrecision">M5</text>
<text x="984.6" y="13" font-size="9.8" fill="#404040" textLength="17.6" lengthAdjust="spacingAndGlyphs" text-rendering="geometricPrecision">M15</text>
<text x="1012.5" y="13" font-size="9.8" fill="#404040" textLength="17.5" lengthAdjust="spacingAndGlyphs" text-rendering="geometricPrecision">M30</text>
<text x="1043.7" y="13" font-size="9.8" fill="#404040" textLength="11.6" lengthAdjust="spacingAndGlyphs" text-rendering="geometricPrecision">H1</text>
<text x="1070.8" y="13" font-size="9.8" fill="#404040" textLength="12.0" lengthAdjust="spacingAndGlyphs" text-rendering="geometricPrecision">H4</text>
<text x="1099.5" y="13" font-size="9.8" fill="#404040" textLength="11.7" lengthAdjust="spacingAndGlyphs" text-rendering="geometricPrecision">D1</text>
<text x="1127" y="13" font-size="9.8" fill="#404040" textLength="14" lengthAdjust="spacingAndGlyphs" text-rendering="geometricPrecision">W1</text>
<text x="1153.8" y="13" font-size="9.8" fill="#404040" textLength="14.2" lengthAdjust="spacingAndGlyphs" text-rendering="geometricPrecision">MN</text>
<rect x="1176" y="0" width="1" height="21" fill="#a0a0a0" shape-rendering="crispEdges"/>
<rect x="1177" y="0" width="1" height="21" fill="#fafafa" shape-rendering="crispEdges"/>
<path d="M1643.4 9.4 L1638.6 13.6" stroke="#2458c8" stroke-width="2.4" stroke-linecap="round"/>
<circle cx="1646.6" cy="6.4" r="3.9" fill="#f4f6ff" stroke="#2a5fd4" stroke-width="1.3"/>
<path d="M1666.4 17.6 L1666.8 15 Q1663 13.6 1663.2 10.6 Q1663.6 6.2 1669.4 6 Q1675.4 6 1675.4 10.8 Q1675.2 15.6 1669 15.8 Z" fill="#e8e8f0" stroke="#a8a8a8" stroke-width="0.9"/>
<circle cx="1677.5" cy="6.3" r="8.4" fill="url(#gBadge)"/>
<text x="1673.4" y="11" font-size="12.5" font-weight="bold" fill="#fff" font-family="Liberation Serif,serif">1</text>
</svg>
</body></html>
